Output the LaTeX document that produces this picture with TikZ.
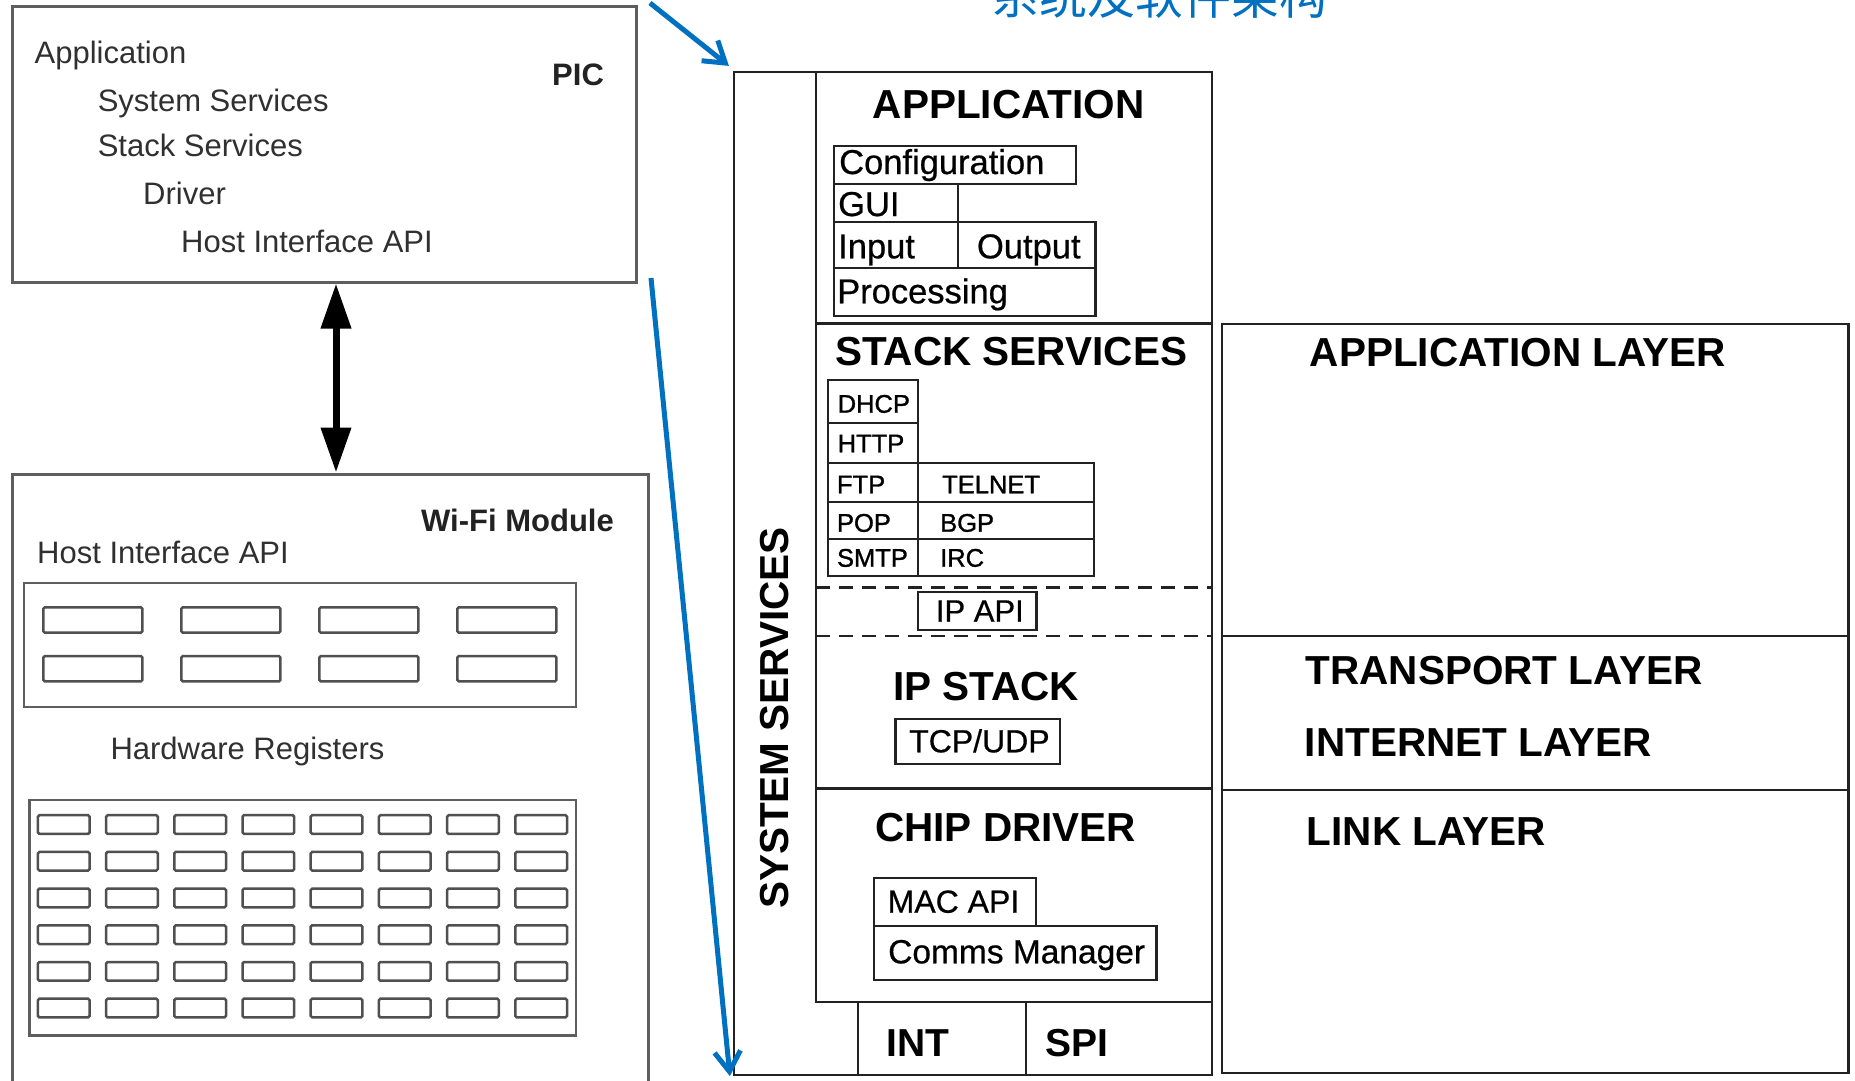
\documentclass[tikz,border=0pt]{standalone}
\usepackage{fontspec}
\setmainfont{Liberation Sans}
\newfontfamily\heavyfont[FakeBold=0.6]{Liberation Sans}
\newfontfamily\protofont[FakeBold=1.2]{Liberation Sans}
\newfontfamily\cjkfont{Noto Sans CJK SC}
\usetikzlibrary{arrows.meta,fit,calc}
\definecolor{titleblue}{HTML}{0070C0}
\definecolor{boxgray}{HTML}{5E5E5E}
\definecolor{txtgray}{HTML}{303030}
\definecolor{ink}{HTML}{222222}
\newcommand{\setsz}[1]{\fontsize{#1}{#1}\selectfont}
% box given by two opposite corners: name, x1, y1, x2, y2
\newcommand{\cellbox}[6][]{\node[archcell,#1,inner sep=0pt,fit={(#3,#4) (#5,#6)}] (#2) {};}

\begin{document}
\begin{tikzpicture}[x=1pt,y=-1pt,
  lbl/.style={inner sep=0pt, anchor=base west},
  ptxt/.style={lbl, text=txtgray, font=\setsz{31}},
  pbold/.style={lbl, text=ink, font=\bfseries\setsz{31}},
  htitle/.style={lbl, text=black, font=\bfseries\setsz{40.5}},
  aitem/.style={lbl, text=black, font=\heavyfont\setsz{34.5}},
  ptitem/.style={lbl, text=black, font=\protofont\setsz{25.5}},
  apitxt/.style={lbl, text=black, font=\heavyfont\setsz{32}},
  grayframe/.style={draw=boxgray, line width=3pt},
  archcell/.style={draw=ink, line width=2.2pt},
  archline/.style={draw=ink, line width=2.4pt},
  regbox/.style={draw=boxgray!85!black, line width=2.5pt, rounded corners=1.5pt},
  dashline/.style={archline, dash pattern=on 14pt off 9pt},
  bluearr/.style={draw=titleblue, line width=5pt, -{Straight Barb[length=20pt,width=26pt]}},
  dblarr/.style={draw=black, line width=7pt,
    {Triangle[length=45pt,width=29pt]}-{Triangle[length=45pt,width=29pt]}},
]
\useasboundingbox (0,0) rectangle (1855,1081);
\clip (0,0) rectangle (1855,1081);
\fill[white] (0,0) rectangle (1855,1081);

% ---------- title ----------
\node[lbl, font=\cjkfont\setsz{48}, text=titleblue] (title) at (991,15) {系统及软件架构};

% ---------- PIC host ----------
\node[grayframe, inner sep=0pt, fit={(12,7) (636,282)}] (pic) {};
\node[ptxt] (t-app) at (34.5,63.3) {Application};
\node[ptxt] (t-sys) at (97.6,111) {System Services};
\node[ptxt] (t-stk) at (97.6,156) {Stack Services};
\node[ptxt] (t-drv) at (143,204) {Driver};
\node[ptxt] (t-hia) at (181,252) {Host Interface API};
\node[pbold] (t-pic) at (552,85) {PIC};

% ---------- Wi-Fi module ----------
\node[grayframe, inner sep=0pt, fit={(12,474) (648,1084)}] (wifi) {};
\node[pbold] (t-wifi) at (421,531.3) {Wi-Fi Module};
\node[ptxt] (t-hia2) at (37,563.8) {Host Interface API};
\node[grayframe, line width=2.5pt, inner sep=0pt, fit={(24,583) (576,707)}] (hostapi) {};
\foreach \r in {0,1}
  \foreach \c in {0,...,3}
    \draw[regbox] (43.4+138*\c, 607.3+48.7*\r) rectangle ++(99,25.4);
\node[ptxt] (t-hwr) at (110.3,759) {Hardware Registers};
\node[grayframe, line width=2.5pt, inner sep=0pt, fit={(29.5,800) (576,1035.4)}] (hwregs) {};
\foreach \r in {0,...,5}
  \foreach \c in {0,...,7}
    \draw[regbox] (37.9+68.2*\c, 815.2+36.7*\r) rectangle ++(51.7,18.7);

% link between host and module
\coordinate (lnk) at (336,0);
\draw[dblarr] (pic.south -| lnk) -- (wifi.north -| lnk);

% ---------- software stack ----------
\cellbox{stack}{734}{72}{1212}{1075}
\draw[archline] (816,72) -- (816,1001.7) -- (1212,1001.7);
\draw[archline] (816,323.3) -- (1212,323.3);
\draw[dashline] (816,587.3) -- (1212,587.3);
\draw[dashline] (816,635.7) -- (1212,635.7);
\draw[archline] (816,788.3) -- (1212,788.3);
\draw[archline] (858,1001.7) -- (858,1075);
\draw[archline] (1025.7,1001.7) -- (1025.7,1075);

\node[inner sep=0pt, anchor=base, rotate=90, font=\bfseries\setsz{40.5}] (sysserv) at (788,718) {SYSTEM SERVICES};

% application
\node[htitle] (h-app) at (872.7,118.7) {APPLICATION};
\cellbox{c-cfg}{834}{145.7}{1076}{183.7}
\cellbox{c-gui}{834}{183.7}{957.6}{221.7}
\cellbox{c-in}{834}{221.7}{957.6}{267.7}
\cellbox{c-out}{957.6}{221.7}{1095.4}{267.7}
\cellbox{c-proc}{834}{267.7}{1095.4}{315.7}
\node[aitem] (t-cfg) at (839,174) {Configuration};
\node[aitem] (t-gui) at (838,216) {GUI};
\node[aitem] (t-in) at (838,258.3) {Input};
\node[aitem] (t-out) at (976.8,258.3) {Output};
\node[aitem] (t-proc) at (837,303.3) {Processing};

% stack services
\node[htitle] (h-stk) at (835,365) {STACK SERVICES};
\cellbox{c-dhcp}{828}{380}{918}{423.3}
\cellbox{c-http}{828}{423.3}{918}{463.3}
\cellbox{c-ftp}{828}{463.3}{918}{501.7}
\cellbox{c-telnet}{918}{463.3}{1094}{501.7}
\cellbox{c-pop}{828}{501.7}{918}{539.3}
\cellbox{c-bgp}{918}{501.7}{1094}{539.3}
\cellbox{c-smtp}{828}{539.3}{918}{576}
\cellbox{c-irc}{918}{539.3}{1094}{576}
\node[ptitem] (t-dhcp) at (837.5,412.7) {DHCP};
\node[ptitem] (t-http) at (837.5,452.3) {HTTP};
\node[ptitem] (t-ftp) at (836.8,493.3) {FTP};
\node[ptitem] (t-telnet) at (942,493.3) {TELNET};
\node[ptitem] (t-pop) at (836.8,531.7) {POP};
\node[ptitem] (t-bgp) at (940,531.7) {BGP};
\node[ptitem] (t-smtp) at (836.8,566.7) {SMTP};
\node[ptitem] (t-irc) at (940,566.7) {IRC};
\cellbox{c-ipapi}{918}{592.3}{1036.4}{630}
\node[lbl, font=\heavyfont\setsz{31}] (t-ipapi) at (935.7,621.7) {IP API};

% ip stack
\node[htitle] (h-ip) at (892.9,700) {IP STACK};
\cellbox{c-tcp}{895.4}{719.3}{1060}{764}
\node[apitxt] (t-tcp) at (909,752.3) {TCP/UDP};

% chip driver
\node[htitle] (h-drv) at (875,841.7) {CHIP DRIVER};
\cellbox{c-mac}{874}{877.7}{1035.7}{925.7}
\cellbox{c-comms}{874}{925.7}{1156.4}{980}
\node[apitxt] (t-mac) at (887.5,912.7) {MAC API};
\node[lbl, font=\heavyfont\setsz{33.5}] (t-comms) at (888,963.3) {Comms Manager};

% buses
\node[lbl, font=\bfseries\setsz{39}] (t-int) at (886.4,1056) {INT};
\node[lbl, font=\bfseries\setsz{39}] (t-spi) at (1045.7,1056) {SPI};

% ---------- TCP/IP layers ----------
\cellbox{layers}{1222}{324}{1848.5}{1073.3}
\draw[archline] (1222,636) -- (1848.5,636);
\draw[archline] (1222,790) -- (1848.5,790);
\node[htitle] (h-al) at (1309.6,366.7) {APPLICATION LAYER};
\node[htitle] (h-tl) at (1305.4,684) {TRANSPORT LAYER};
\node[htitle] (h-il) at (1304.6,756.7) {INTERNET LAYER};
\node[htitle] (h-ll) at (1306.7,845) {LINK LAYER};

% ---------- zoom arrows ----------
\coordinate (z1) at (650,3);
\coordinate (z2) at (651,278);
\draw[bluearr] (z1) -- ($(stack.north west)+(-4,-5)$);
\draw[bluearr] (z2) -- ($(stack.south west)+(-3,0)$);
\end{tikzpicture}
\end{document}
